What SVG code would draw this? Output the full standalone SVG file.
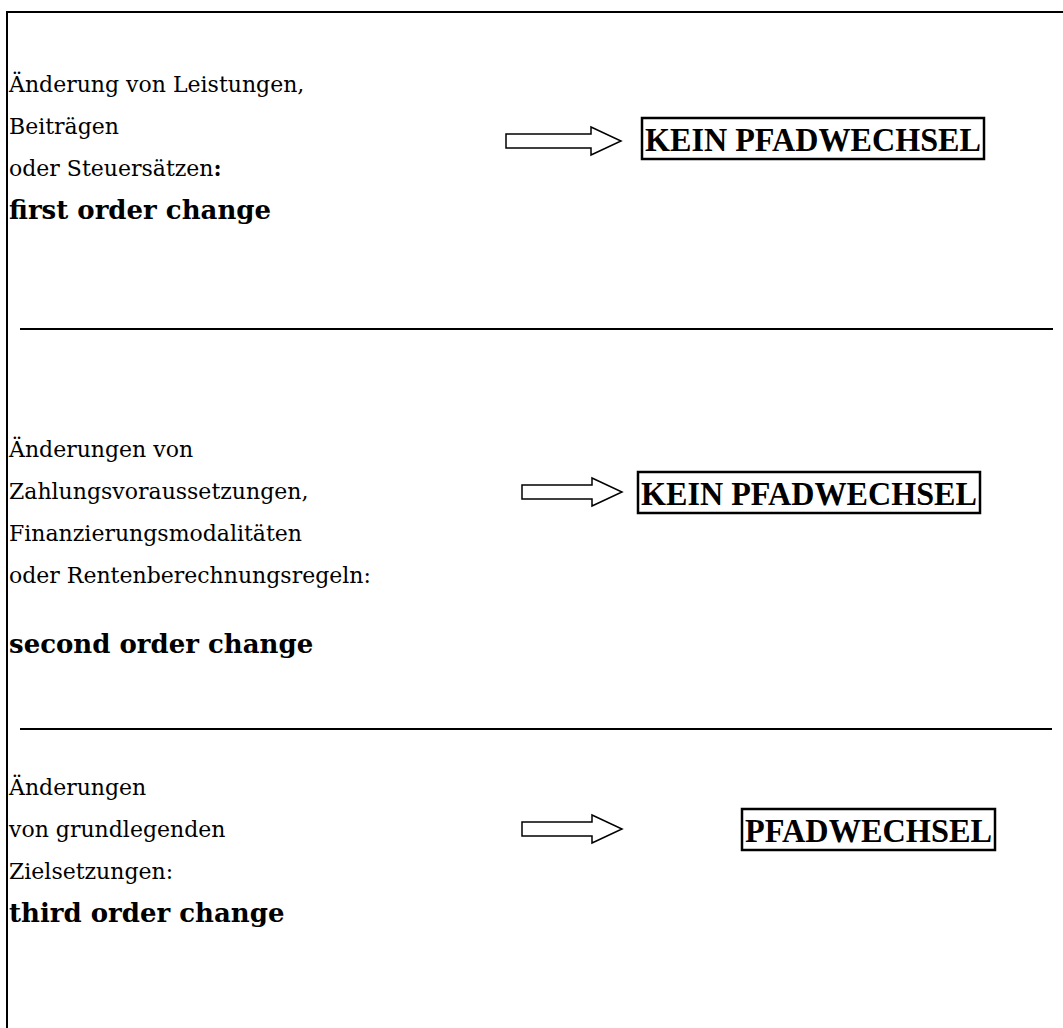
<svg xmlns="http://www.w3.org/2000/svg" width="1063" height="1028" viewBox="0 0 1063 1028">
<style>
.t{font-family:"DejaVu Serif","Liberation Serif",serif;font-size:22px;fill:#000}
.b{font-family:"DejaVu Serif","Liberation Serif",serif;font-size:26px;font-weight:bold;fill:#000}
.k{font-family:"Liberation Serif","Times New Roman",serif;font-size:33px;font-weight:bold;fill:#000}
.box{fill:#fff;stroke:#000;stroke-width:2.5}
.arr{fill:#fff;stroke:#000;stroke-width:1.5}
.sep{stroke:#000;stroke-width:2}
</style>
<rect width="1063" height="1028" fill="#fff"/>
<g id="frame">
<line class="sep" x1="6" y1="12" x2="1063" y2="12"/>
<line class="sep" x1="7" y1="11" x2="7" y2="1028"/>
</g>
<g id="separators">
<line class="sep" x1="20" y1="329" x2="1053" y2="329"/>
<line class="sep" x1="20" y1="729" x2="1052" y2="729"/>
</g>
<g id="section1">
<text class="t" x="9" y="92">Änderung von Leistungen,</text>
<text class="t" x="9" y="134">Beiträgen</text>
<text class="t" x="9" y="176">oder Steuersätzen<tspan font-weight="bold">:</tspan></text>
<text class="b" x="9" y="219">first order change</text>
</g>
<g id="section2">
<text class="t" x="9" y="457">Änderungen von</text>
<text class="t" x="9" y="499">Zahlungsvoraussetzungen,</text>
<text class="t" x="9" y="541">Finanzierungsmodalitäten</text>
<text class="t" x="9" y="583">oder Rentenberechnungsregeln:</text>
<text class="b" x="9" y="653">second order change</text>
</g>
<g id="section3">
<text class="t" x="9" y="795">Änderungen</text>
<text class="t" x="9" y="837">von grundlegenden</text>
<text class="t" x="9" y="879">Zielsetzungen:</text>
<text class="b" x="9" y="922">third order change</text>
</g>
<g id="result1">
<rect class="box" x="642" y="118" width="342" height="41"/>
<text class="k" x="645" y="151" textLength="336" lengthAdjust="spacingAndGlyphs">KEIN PFADWECHSEL</text>
</g>
<g id="result2">
<rect class="box" x="638" y="472" width="342" height="41"/>
<text class="k" x="641" y="505" textLength="336" lengthAdjust="spacingAndGlyphs">KEIN PFADWECHSEL</text>
</g>
<g id="result3">
<rect class="box" x="742" y="809" width="253" height="41"/>
<text class="k" x="745" y="842" textLength="247" lengthAdjust="spacingAndGlyphs">PFADWECHSEL</text>
</g>
<g id="connectors">
<path class="arr" d="M506,134 H591 V127 L621,141 L591,155 V148 H506 Z"/>
<path class="arr" d="M522,485 H592 V478 L622,492 L592,506 V499 H522 Z"/>
<path class="arr" d="M522,822 H592 V815 L622,829 L592,843 V836 H522 Z"/>
</g>
</svg>
